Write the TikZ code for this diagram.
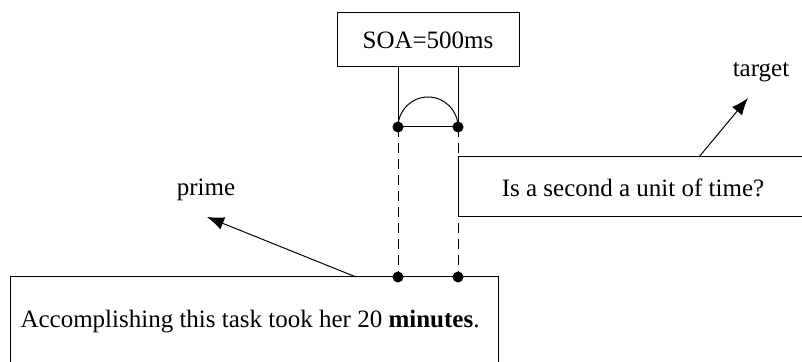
\documentclass[tikz,border=0pt]{standalone}
\usepackage{fontspec}
\setmainfont{Liberation Serif}
\usetikzlibrary{arrows.meta}

\begin{document}
\begin{tikzpicture}[x=0.5pt, y=-0.5pt, line width=0.5pt,
                    txt/.style={font=\fontsize{12.5}{15}\selectfont, inner sep=0pt},
                    dot/.style={fill, circle, inner sep=0pt, minimum size=5.5pt},
                    ptr/.style={-{Latex[length=8.5pt, width=6.5pt]}}]
                        \useasboundingbox (0,0) rectangle (802,362);
                        % SOA box and its bracket:
                        \node[txt, draw, minimum width=91pt, minimum height=27pt] (soa) at (428,40) {SOA=500ms};
                        \coordinate (a1) at (398,127);
                        \coordinate (a2) at (458,127);
                        \coordinate (b1) at (398,277);
                        \coordinate (b2) at (458,277);
                        \draw (soa.south -| a1) -- (a1) -- (a2) -- (soa.south -| a2);
                        \draw (a1) arc[start angle=180, end angle=360, radius=30];
                        \draw[dashed, dash pattern=on 5pt off 3pt] (a1) -- (b1);
                        \draw[dashed, dash pattern=on 5pt off 3pt] (a2) -- (b2);

                        % target:
                        \draw[fill=white] (802,157) -- (458,157) -- (458,217) -- (802,217);
                        \node[txt] (qst) at (633,188) {Is a second a unit of time?};
                        \node[txt] (tgt) at (761,72) {target};
                        \coordinate (t0) at (699,157);
                        \coordinate (t1) at (748,98);
                        \draw[ptr] (t0) -- (t1);

                        % prime:
                        \draw (10,362) -- (10,277) -- (498,277) -- (498,362);
                        \node[txt] (snt) at (250,322) {Accomplishing this task took her 20 \textbf{minutes}.};
                        \node[txt] (prm) at (206,190) {prime};
                        \coordinate (p0) at (356,277);
                        \coordinate (p1) at (207,217);
                        \draw[ptr] (p0) -- (p1);

                        \foreach \d in {a1, a2, b1, b2}
                            \node[dot] at (\d) {};
                    \end{tikzpicture}
\end{document}
